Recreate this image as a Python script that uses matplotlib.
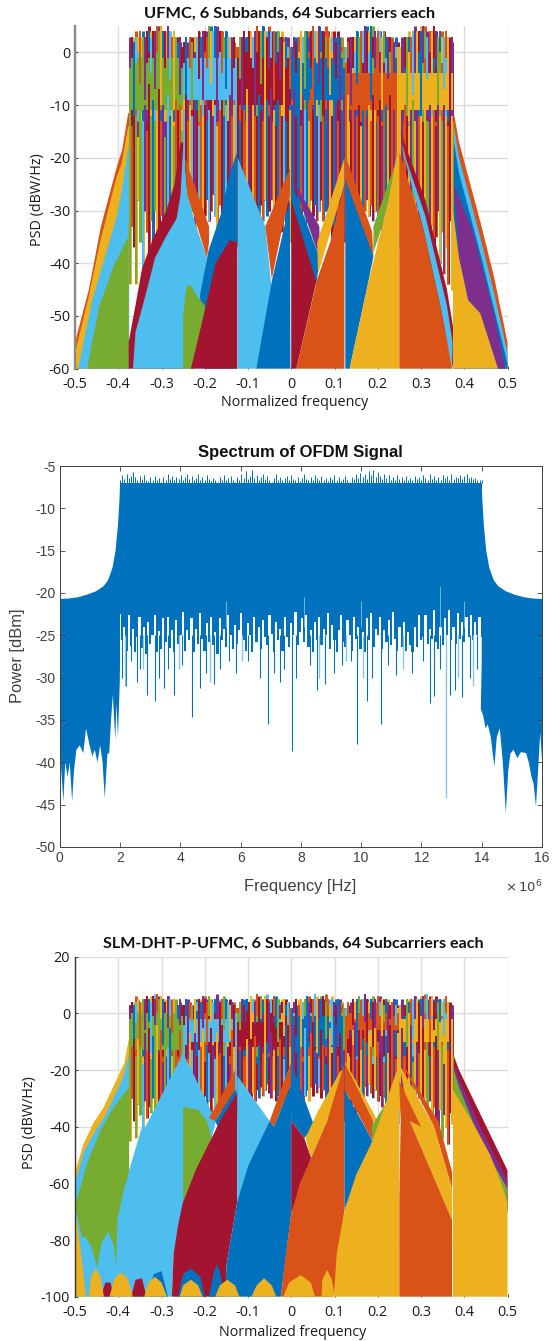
import numpy as np
import matplotlib
matplotlib.use("Agg")
import matplotlib.pyplot as plt

plt.rcParams["axes.unicode_minus"] = False

W, H = 554, 1341

BLUE = "#0072BD"
ORANGE = "#D95319"
GOLD = "#EDB120"
PURPLE = "#7E2F8E"
GREEN = "#77AC30"
SKY = "#4DBEEE"
RED = "#A2142F"
CYCLE = [BLUE, ORANGE, GOLD, PURPLE, GREEN, SKY, RED]

# colour index of each spike, 26 per subband
UPPER_COLOURS = ("36052143605631420635124036" "60314256036142503614052361" "14360625316402635104362051"
                 "03612540361523064125360314" "51362041536206315240361352" "23640153260345126340251263")
MIDDLE_COLOURS = ("41642453164042613450241614" "56125365126056352160563125" "60612362160612063260165062"
                  "03601350216035610326031603" "12613162013216216310261312" "23162342312624321632432162")

BAND_CENTRES = [-0.3125, -0.1875, -0.0625, 0.0625, 0.1875, 0.3125]
BAND_COLOURS = [GREEN, SKY, RED, BLUE, ORANGE, GOLD]
FREQ_TICKS = [-0.5, -0.4, -0.3, -0.2, -0.1, 0, 0.1, 0.2, 0.3, 0.4, 0.5]
FREQ_LABELS = ["-0.5", "-0.4", "-0.3", "-0.2", "-0.1", "0", "0.1", "0.2", "0.3", "0.4", "0.5"]

# panel 1 : UFMC
U_BLOCK_TOP = [-1, -1, 0, -1, -4, -4]
U_BLOCK_BOTTOM = [-11, -9, -10, -9, -11, -11]
U_TOP_HI = [2, 3, 2, 3, 3, 4, 3, 3, 4, 4, 3, 4, 4, 5, 4, 5, 4, 4, 5, 4, 3, 4, 3, 2, 3, 1,
            2, 3, 1, 3, 2, 3, 3, 4, 3, 4, 4, 3, 5, 4, 4, 5, 4, 4, 4, 3, 4, 3, 3, 2, 3, 1,
            1, 3, 3, 4, 3, 4, 4, 3, 4, 5, 4, 4, 5, 4, 3, 4, 4, 4, 3, 4, 3, 3, 2, 3, 1, 1,
            1, 3, 2, 3, 4, 3, 4, 4, 3, 4, 5, 4, 4, 5, 4, 4, 3, 4, 3, 3, 3, 2, 3, 2, 1, 1,
            1, 2, 3, 3, 3, 4, 3, 4, 4, 5, 4, 4, 5, 3, 4, 4, 4, 3, 4, 3, 3, 3, 2, 2, 1, 1,
            1, 2, 3, 3, 3, 3, 4, 3, 4, 4, 4, 5, 4, 3, 4, 4, 5, 4, 3, 4, 3, 3, 4, 3, 2, 3]
U_TOP_LO = [-3, -1, -12, -2, 0, -6, -1, -9, -2, 0, -4, -1, -7, 0, -2, -10, -1, -3, 0, -5, -1, -11, -2, -1, -8, -3,
            -2, -8, -1, -3, -11, 0, -2, -5, -1, -9, 0, -3, -1, -6, -2, -1, -12, 0, -4, -1, -7, -2, -1, -10, -3, -1,
            -1, -5, -11, -2, 0, -8, -1, -3, -12, 0, -2, -6, -1, -10, 0, -3, -1, -9, -2, 0, -5, -1, -12, -3, -1, -7,
            -9, -1, -4, 0, -11, -2, -7, -1, 0, -3, -10, -1, -2, -6, 0, -12, -1, -3, -8, 0, -2, -5, -1, -11, 0, -3,
            -2, -1, -10, -3, 0, -6, -1, -12, -2, -1, -4, 0, -9, -1, -3, -7, 0, -11, -2, -1, -5, 0, -8, -3, -1, -12,
            -6, -1, -3, -11, 0, -2, -8, -1, -4, 0, -12, -2, -1, -5, 0, -9, -1, -3, -10, 0, -2, -7, -1, -4, -11, -2]
U_MID_HI = [-9, -14, -7, -12, -16, -8, -13, -10, -15, -6, -12, -9, -14, -11, -7, -13, -10, -16, -8, -12, -11, -14, -9, -13, -10, -15,
            -11, -8, -13, -10, -12, -9, -11, -14, -10, -12, -10, -13, -11, -9, -12, -10, -14, -11, -9, -12, -10, -13, -8, -12, -10, -9,
            -9, -13, -8, -11, -7, -12, -10, -14, -9, -12, -8, -11, -13, -10, -9, -12, -7, -11, -14, -9, -10, -12, -8, -13, -10, -11,
            -10, -7, -12, -9, -14, -8, -11, -10, -13, -7, -11, -9, -12, -10, -14, -8, -11, -13, -9, -12, -7, -10, -13, -9, -11, -8,
            -11, -8, -13, -9, -11, -12, -10, -14, -11, -9, -12, -10, -13, -8, -11, -12, -9, -14, -11, -10, -12, -8, -13, -11, -9, -12,
            -11, -13, -10, -12, -14, -11, -9, -13, -11, -12, -10, -14, -11, -13, -10, -12, -11, -14, -9, -12, -13, -10, -12, -14, -11, -12]
U_MID_LO = [-44, -33, -37, -44, -28, -36, -41, -30, -34, -39, -32, -36, -30, -35, -38, -31, -34, -36, -30, -33, -35, -30, -34, -31, -33, -30,
            -30, -33, -28, -32, -30, -34, -29, -32, -30, -33, -31, -28, -32, -30, -27, -31, -33, -29, -34, -32, -30, -36, -31, -35, -33, -37,
            -36, -34, -37, -33, -36, -32, -35, -31, -34, -30, -33, -29, -32, -28, -31, -30, -28, -32, -30, -33, -31, -34, -32, -35, -33, -36,
            -33, -36, -32, -35, -33, -30, -34, -29, -32, -28, -31, -29, -32, -30, -28, -32, -30, -33, -31, -35, -33, -36, -34, -38, -33, -36,
            -35, -33, -37, -32, -35, -31, -33, -29, -32, -30, -28, -31, -29, -32, -30, -33, -31, -34, -32, -35, -33, -36, -34, -38, -35, -37,
            -34, -37, -33, -35, -31, -34, -30, -33, -29, -32, -31, -30, -34, -32, -36, -33, -38, -35, -30, -40, -34, -42, -37, -44, -32, -45]

U_EDGE_ORANGE_F = [-0.5, -0.468, -0.44, -0.403, -0.391, -0.377, -0.375, -0.375, -0.5]
U_EDGE_ORANGE_Y = [-55, -45, -33, -21.6, -18.5, -11.5, -11.5, -60, -60]
U_EDGE_GOLD_F = [-0.5, -0.47, -0.442, -0.405, -0.392, -0.377, -0.375, -0.375, -0.5]
U_EDGE_GOLD_Y = [-57, -47, -36, -24, -21, -14, -14, -60, -60]
U_EDGE_SKY_F = [-0.493, -0.46, -0.403, -0.39, -0.377, -0.375, -0.375]
U_EDGE_SKY_Y = [-60, -47, -31, -25.4, -18, -18, -60]
U_GREEN1_F = [-0.472, -0.444, -0.411, -0.377, -0.376, -0.376]
U_GREEN1_Y = [-60, -48.2, -40.6, -35, -31, -60]
U_RED2_F = [-0.376, -0.376, -0.358, -0.345, -0.321, -0.289, -0.27, -0.256, -0.25, -0.25]
U_RED2_Y = [-60, -55, -47, -41, -35.6, -30, -25, -17.2, -17, -60]
U_SKY2_F = [-0.366, -0.36, -0.34, -0.315, -0.29, -0.265, -0.256, -0.25, -0.24, -0.22, -0.195, -0.21, -0.225]
U_SKY2_Y = [-60, -53, -47, -39, -35, -31.5, -27, -18, -27, -33, -39, -48, -60]
U_ORANGE2_F = [-0.246, -0.19, -0.19, -0.195, -0.24]
U_ORANGE2_Y = [-20, -33, -36, -39, -27]
U_GREEN3_F = [-0.25, -0.25, -0.245, -0.24, -0.23, -0.22, -0.2, -0.2, -0.225]
U_GREEN3_Y = [-60, -50, -46, -44, -44.5, -46, -48, -50, -60]
U_BLUE3_F = [-0.211, -0.191, -0.162, -0.142, -0.13, -0.125, -0.125, -0.2]
U_BLUE3_Y = [-46, -37.5, -30.5, -23, -20, -19, -60, -60]
U_RED3_F = [-0.232, -0.2, -0.175, -0.142, -0.127, -0.125, -0.125]
U_RED3_Y = [-60, -49, -40, -35.6, -36, -36, -60]
U_SKY3_F = [-0.124, -0.06, -0.045, -0.081, -0.124]
U_SKY3_Y = [-20, -33, -45, -60, -60]
U_ORANGE3_F = [-0.003, -0.06, -0.045, -0.02, -0.003]
U_ORANGE3_Y = [-22, -33, -43, -33, -27]
U_BLUE4_F = [-0.081, -0.044, -0.02, -0.003, -0.002]
U_BLUE4_Y = [-60, -43, -34.5, -28, -60]
U_BLUE5_F = [0.001, 0.066, 0.058, 0.001]
U_BLUE5_Y = [-25, -39, -44, -35]
U_PURPLE5_F = [0.003, 0.065, 0.066, 0.04]
U_PURPLE5_Y = [-24, -33, -39, -33]
U_RED5_F = [0.0, 0.058, 0.012, 0.0]
U_RED5_Y = [-28, -43.5, -60, -60]
U_ORANGE5_F = [0.012, 0.06, 0.09, 0.123, 0.123]
U_ORANGE5_Y = [-60, -43, -36, -25, -60]
U_GOLD5_F = [0.06, 0.123, 0.123, 0.062]
U_GOLD5_Y = [-36, -20, -25, -42]
U_ORANGE6_F = [0.127, 0.187, 0.19, 0.13]
U_ORANGE6_Y = [-20, -34, -38.7, -27]
U_BLUE6_F = [0.125, 0.19, 0.177, 0.135, 0.125]
U_BLUE6_Y = [-24, -38.7, -44, -60, -60]
U_GREEN6_F = [0.19, 0.245, 0.245, 0.19]
U_GREEN6_Y = [-33, -20, -24, -38]
U_GOLD6_F = [0.135, 0.177, 0.225, 0.245, 0.25, 0.25]
U_GOLD6_Y = [-60, -44, -28, -19, -19, -60]
U_RED7_F = [0.252, 0.31, 0.36, 0.374, 0.374]
U_RED7_Y = [-15, -28, -45, -52, -60]
U_SKY7_F = [0.252, 0.31, 0.36, 0.373, 0.372, 0.347, 0.306]
U_SKY7_Y = [-17, -31, -48, -55, -60, -49, -33.7]
U_ORANGE7_F = [0.25, 0.306, 0.347, 0.372, 0.25]
U_ORANGE7_Y = [-19, -33.7, -49, -60, -60]
U_EDGE_R1_F = [0.376, 0.388, 0.44, 0.47, 0.5, 0.5, 0.376]
U_EDGE_R1_Y = [-11.5, -17, -33, -43, -55, -60, -60]
U_EDGE_R2_F = [0.376, 0.388, 0.44, 0.47, 0.5, 0.5, 0.376]
U_EDGE_R2_Y = [-14, -20, -36, -46, -57, -60, -60]
U_EDGE_R3_F = [0.376, 0.388, 0.44, 0.47, 0.5, 0.5, 0.376]
U_EDGE_R3_Y = [-17, -23, -39, -49, -59, -60, -60]
U_PURPLE8_F = [0.376, 0.42, 0.47, 0.495, 0.478, 0.437, 0.409, 0.388]
U_PURPLE8_Y = [-25, -34, -50, -60, -60, -49.5, -47, -39]
U_GOLD8_F = [0.374, 0.374, 0.388, 0.409, 0.437, 0.478]
U_GOLD8_Y = [-60, -30, -39, -47, -49.5, -60]

# panel 2 : OFDM
OFDM_BODY_TOP = -7.0
OFDM_BODY_BOTTOM = -22.0
OFDM_TOP = [-6.6, -6.1, -6.5, -6.0, -6.4, -6.2, -5.7, -6.3, -6.6, -6.2, -6.5, -6.1, -6.6, -6.8, -6.3, -6.6, -6.2, -6.7, -6.4, -6.9, -6.3, -6.6, -6.0, -6.5, -6.2, -6.7, -6.3, -6.5,
            -6.1, -6.6, -6.3, -5.9, -6.5, -6.2, -6.7, -6.4, -6.0, -6.6, -6.3, -6.7, -6.1, -6.5, -6.8, -6.4, -6.6, -6.9, -6.3, -6.6, -6.1, -6.7, -6.4, -6.2, -6.6, -6.9, -6.3, -6.6,
            -6.0, -6.4, -5.6, -6.5, -6.2, -5.5, -6.4, -6.1, -6.6, -6.3, -5.9, -6.5, -6.2, -6.6, -6.9, -6.4, -6.0, -6.6, -6.3, -6.7, -6.4, -6.2, -6.6, -6.1, -6.5, -6.7, -6.3, -6.8,
            -6.4, -6.0, -6.5, -6.7, -6.3, -6.6, -6.1, -6.4, -6.7, -6.2, -6.6, -6.4, -6.8, -6.3, -6.5, -6.1, -6.6, -6.3, -6.8, -6.5, -6.2, -6.6, -6.9, -6.3, -6.5, -6.0, -6.4, -5.8,
            -6.3, -5.9, -6.5, -5.6, -6.1, -5.5, -6.3, -5.7, -6.2, -6.5, -5.9, -6.4, -6.1, -6.6, -6.3, -6.7, -6.1, -6.5, -6.3, -6.6, -6.2, -6.6, -6.4, -6.7, -6.2, -6.5, -6.3, -6.6,
            -6.1, -6.4, -6.7, -6.0, -6.5, -6.2, -6.6, -6.3, -6.7, -6.1, -6.4, -6.2, -6.6, -6.0, -6.5, -6.3, -6.4, -6.1, -6.5, -6.2, -6.0, -6.4, -6.3, -6.5, -6.4, -6.7, -6.6, -6.7]
OFDM_FLOOR = [-22.5, -25.6, -24.0, -26.8, -22.6, -26.3, -24.2, -27.0, -25.2, -22.8, -26.5, -24.0, -27.2, -23.4, -26.0, -25.0, -22.6, -27.0, -24.5, -26.6, -23.0, -25.8, -22.8, -26.5, -24.4, -27.0, -23.2, -26.0,
              -25.0, -22.2, -26.8, -24.4, -25.6, -23.0, -27.0, -24.2, -26.0, -22.4, -25.4, -26.8, -23.6, -25.8, -22.8, -26.2, -24.6, -27.2, -23.0, -25.6, -24.2, -26.4, -22.6, -25.0, -26.6, -23.8, -26.0, -24.4,
              -22.4, -25.6, -26.8, -23.6, -25.0, -27.0, -22.8, -25.8, -24.0, -26.6, -23.2, -25.2, -26.2, -22.6, -24.8, -27.0, -23.4, -25.6, -24.2, -26.8, -22.8, -25.2, -26.4, -23.6, -25.0, -22.2, -26.2, -24.6,
              -23.0, -25.8, -22.6, -26.4, -24.4, -27.0, -23.4, -25.6, -22.8, -26.2, -24.2, -25.0, -22.4, -26.6, -23.8, -25.6, -27.0, -24.4, -22.6, -25.8, -26.4, -23.2, -25.0, -26.8, -22.8, -25.4, -24.0, -26.6,
              -24.6, -27.0, -23.0, -25.6, -22.4, -26.4, -24.2, -25.0, -22.8, -26.6, -24.4, -25.8, -23.2, -26.2, -22.2, -25.4, -26.8, -24.0, -26.4, -23.4, -26.8, -24.6, -26.2, -27.0, -24.0, -26.4, -22.6, -25.6,
              -25.2, -22.6, -26.0, -24.2, -25.4, -22.0, -25.8, -26.6, -24.0, -26.2, -23.0, -25.0, -22.0, -25.6, -24.0, -26.0, -22.4, -25.4, -23.4, -25.8, -22.8, -25.2, -22.6, -25.6, -23.4, -25.0, -22.8, -25.2]
OFDM_LEFT_TOP_F = [0, 0.3, 0.6, 0.9, 1.2, 1.45, 1.6, 1.75, 1.85, 1.93, 1.98, 2.0]
OFDM_LEFT_TOP_Y = [-20.7, -20.65, -20.5, -20.2, -19.8, -19.2, -18.5, -17, -15, -12, -9, -7]
OFDM_LEFT_LOW_F = [2.0, 1.99, 1.93, 1.88, 1.84, 1.76, 1.7, 1.64, 1.58, 1.49, 1.42, 1.34, 1.25, 1.16, 1.08, 0.99, 0.87, 0.78, 0.66, 0.55, 0.47, 0.41, 0.33, 0.26, 0.18, 0.12, 0.05, 0]
OFDM_LEFT_LOW_Y = [-28, -30.5, -37, -33, -37.3, -32, -35, -38.9, -39, -44.2, -40, -38, -40, -38.5, -39.3, -38, -36, -38.9, -38, -38.5, -41, -44.6, -40, -41.7, -40, -44.6, -41, -38.5]
OFDM_RIGHT_LOW_F = [14.0, 13.97, 14.05, 14.13, 14.2, 14.3, 14.42, 14.5, 14.6, 14.7, 14.8, 14.88, 14.95, 15.05, 15.18, 15.3, 15.47, 15.56, 15.65, 15.72, 15.8, 15.87, 15.94, 16.0]
OFDM_RIGHT_LOW_Y = [-28, -33.7, -34.5, -36, -35.5, -37, -40.5, -37, -36, -40, -46, -41, -39, -38.5, -39.5, -38.8, -38.9, -40, -41.7, -42.5, -45.2, -41, -36.5, -39.7]
OFDM_RIGHT_TOP_F = [16.0, 15.7, 15.4, 15.1, 14.8, 14.55, 14.4, 14.25, 14.15, 14.07, 14.02, 14.0]
OFDM_RIGHT_TOP_Y = [-20.7, -20.65, -20.5, -20.2, -19.8, -19.2, -18.5, -17, -15, -12, -9, -7]
OFDM_DIP_F = [2.05, 2.2, 2.35, 2.55, 2.65, 2.9, 3.15, 3.3, 3.45, 3.6, 3.8, 4.05, 4.4, 4.65, 4.85, 5.1, 5.3, 5.6, 5.85, 6.25, 6.65, 6.9, 7.1, 7.3, 7.45, 7.7, 7.85, 8.3, 8.55, 8.8, 9.1, 9.35, 9.65, 9.85, 10.2, 10.35, 10.65, 10.9, 11.15, 11.7, 12.05, 12.3, 12.4, 12.6, 12.95, 13.1, 13.35, 13.6, 13.85]
OFDM_DIP_Y = [-30, -31, -28, -30.5, -29, -32, -32.8, -30, -31.2, -29, -32, -28.5, -34.7, -31.2, -29.5, -30.8, -29, -28, -29.5, -28, -30, -35.5, -29.5, -30.5, -29, -38.7, -30, -28.5, -31.5, -30.8, -29.5, -28.5, -28, -37.8, -32.8, -30, -35.5, -28.5, -29.7, -29.5, -28, -33, -32.2, -29, -32, -31.5, -32.3, -30, -29]
OFDM_PALE_F = [2.15, 2.75, 3.95, 5.0, 6.05, 8.6, 9.5, 10.05, 11.4, 12.8, 13.2, 13.7]
OFDM_PALE_Y = [-31, -29, -29, -30.5, -28, -30, -28, -30, -29, -44.2, -30, -31]
OFDM_STREAK_F = [12.6, 10.0, 8.1, 5.5, 13.4]
OFDM_STREAK_Y = [-19.2, -21, -20.5, -21, -21]
FREQ2_TICKS = [0, 2, 4, 6, 8, 10, 12, 14, 16]
POWER_TICKS = [-50, -45, -40, -35, -30, -25, -20, -15, -10, -5]

# panel 3 : SLM-DHT-P-UFMC
S_BLOCK_TOP = [0, -2, -3, -1, 0, -2]
S_BLOCK_BOTTOM = [-13, -10, -12, -12, -6, -10]
S_TOP_HI = [3, 4, 3, 4, 5, 4, 5, 5, 6, 5, 4, 6, 5, 7, 5, 6, 5, 4, 6, 5, 4, 5, 4, 3, 5, 3,
            3, 5, 4, 4, 3, 5, 4, 5, 4, 6, 5, 4, 6, 5, 4, 5, 5, 4, 5, 3, 5, 4, 3, 4, 3, 2,
            2, 4, 5, 3, 5, 4, 6, 5, 4, 7, 5, 6, 4, 6, 5, 4, 5, 6, 4, 5, 3, 4, 5, 3, 4, 2,
            2, 4, 5, 3, 5, 4, 5, 6, 4, 5, 5, 7, 4, 5, 5, 6, 4, 5, 3, 5, 4, 3, 5, 3, 3, 2,
            2, 4, 3, 5, 4, 5, 6, 4, 5, 7, 5, 4, 5, 4, 5, 6, 4, 5, 3, 5, 4, 3, 4, 5, 3, 2,
            3, 4, 3, 5, 4, 5, 4, 6, 5, 4, 5, 6, 5, 7, 5, 6, 4, 5, 4, 5, 4, 5, 6, 4, 3, 3]
S_TOP_LO = [-2, 0, -9, -3, 1, -12, -1, -6, 0, -3, -14, -1, -4, 0, -8, -2, -11, 0, -5, -1, -7, 0, -13, -2, -4, -1,
            -4, -1, -10, 0, -3, -7, 1, -13, -2, -5, 0, -11, -1, -3, -8, 0, -2, -14, -1, -6, 0, -3, -9, -1, -12, 0,
            0, -6, -2, -13, 1, -3, -9, 0, -4, -1, -11, -2, 0, -7, -3, -14, 0, -1, -5, -10, -2, 0, -8, -1, -4, -12,
            -3, 0, -8, -1, -12, -2, 1, -5, -10, 0, -3, -1, -14, -2, -6, 0, -9, -1, -3, -11, 0, -4, -7, -1, 0, -13,
            -1, -9, 0, -4, -2, -13, 0, -6, -1, -3, -10, 0, -2, -12, -5, 0, -1, -8, -3, 0, -14, -2, -6, -1, -4, 0,
            -7, -2, -1, -12, 0, -4, -9, 0, -3, -14, -1, -5, 0, -2, -10, -1, -6, 0, -13, -3, -1, -8, 0, -4, -11, -2]
S_MID_HI = [-6, -12, -4, -15, -9, -3, -18, -7, -13, -5, -16, -8, -11, -4, -14, -6, -17, -9, -12, -5, -15, -7, -10, -18, -6, -13,
            -5, -11, -16, -7, -13, -4, -15, -9, -12, -6, -17, -8, -14, -5, -11, -16, -7, -13, -4, -15, -9, -12, -18, -6, -10, -14,
            -7, -13, -4, -16, -9, -11, -5, -15, -8, -18, -6, -12, -14, -3, -10, -17, -7, -13, -5, -15, -9, -11, -16, -4, -12, -8,
            -8, -4, -14, -10, -6, -17, -5, -12, -15, -7, -3, -13, -9, -16, -6, -11, -18, -8, -5, -14, -10, -4, -15, -7, -12, -9,
            -5, -14, -8, -11, -3, -16, -6, -13, -9, -4, -15, -7, -12, -18, -5, -10, -14, -6, -17, -8, -11, -4, -13, -9, -16, -7,
            -9, -5, -15, -7, -12, -4, -17, -8, -11, -14, -6, -3, -13, -10, -16, -5, -12, -8, -15, -4, -11, -18, -7, -13, -9, -6]
S_MID_LO = [-45, -30, -38, -44, -32, -36, -42, -31, -37, -33, -35, -30, -38, -32, -36, -29, -34, -37, -30, -33, -28, -35, -31, -29, -33, -27,
            -27, -30, -26, -29, -32, -28, -31, -27, -30, -33, -29, -34, -31, -35, -30, -33, -36, -31, -34, -37, -32, -35, -33, -37, -34, -38,
            -36, -33, -37, -31, -34, -30, -33, -28, -31, -27, -30, -26, -29, -27, -25, -28, -30, -27, -31, -29, -33, -30, -34, -32, -36, -35,
            -34, -36, -32, -35, -30, -33, -29, -27, -31, -26, -29, -25, -28, -26, -30, -27, -31, -29, -33, -30, -34, -36, -32, -37, -35, -38,
            -36, -33, -37, -31, -35, -29, -32, -27, -30, -26, -29, -25, -28, -30, -27, -31, -29, -33, -30, -35, -32, -36, -34, -38, -35, -39,
            -34, -38, -32, -36, -30, -33, -28, -31, -27, -30, -28, -32, -30, -34, -31, -35, -33, -38, -42, -34, -44, -36, -40, -46, -35, -39]

S_EDGE_GOLD_F = [-0.5, -0.48, -0.458, -0.435, -0.386, -0.376, -0.375, -0.375, -0.5]
S_EDGE_GOLD_Y = [-56, -46, -38.8, -33.5, -17.6, -9.4, -9.4, -70, -70]
S_EDGE_SKY_F = [-0.5, -0.48, -0.455, -0.43, -0.39, -0.376, -0.375, -0.375, -0.5]
S_EDGE_SKY_Y = [-60, -49, -42, -36, -23, -15, -15, -100, -100]
S_GREEN1_F = [-0.5, -0.47, -0.44, -0.41, -0.375, -0.375, -0.39, -0.402, -0.405, -0.41, -0.423, -0.439, -0.449, -0.463, -0.476, -0.484]
S_GREEN1_Y = [-68, -52, -41, -33, -26, -56, -64, -73, -89.5, -82, -77, -81, -89.5, -82, -79, -79]
S_SKY2_F = [-0.405, -0.402, -0.39, -0.376, -0.345, -0.337, -0.25, -0.174, -0.184, -0.25, -0.272, -0.276]
S_SKY2_Y = [-100, -90, -73, -56, -40, -40, -14, -38, -44, -68, -85, -100]
S_ORANGE3_F = [-0.19, -0.13, -0.13, -0.176]
S_ORANGE3_Y = [-37, -20, -27, -38]
S_BLUE3_F = [-0.176, -0.13, -0.125, -0.17]
S_BLUE3_Y = [-38, -27, -28, -40]
S_GREEN3_F = [-0.25, -0.215, -0.195, -0.184, -0.25]
S_GREEN3_Y = [-33, -34, -38, -44, -68]
S_RED3_F = [-0.276, -0.272, -0.262, -0.251, -0.22, -0.184, -0.165, -0.125, -0.125, -0.15, -0.152]
S_RED3_Y = [-100, -85, -75, -67, -55, -44, -38, -28, -66.6, -89, -100]
S_SKY3_F = [-0.125, -0.05, -0.125]
S_SKY3_Y = [-22, -38, -66.6]
S_ORANGE4_F = [-0.05, 0.0, 0.0, -0.04]
S_ORANGE4_Y = [-38, -17, -25, -40]
S_BLUE4_F = [-0.152, -0.15, -0.14, -0.125, -0.1, -0.05, -0.04, 0.0, 0.0, -0.023, -0.025]
S_BLUE4_Y = [-100, -89, -80, -66.6, -54, -38, -40, -25, -70.7, -99, -100]
S_BLUE5_F = [0.0, 0.054, 0.03, 0.0]
S_BLUE5_Y = [-17.6, -40, -44, -38]
S_RED5_F = [0.0, 0.046, 0.03, 0.0]
S_RED5_Y = [-70.7, -51, -44, -38]
S_GOLD5_F = [0.033, 0.046, 0.083, 0.123, 0.115, 0.06]
S_GOLD5_Y = [-44, -51, -38, -22, -20, -35]
S_ORANGE5_F = [-0.023, -0.015, 0.0, 0.02, 0.046, 0.083, 0.123, 0.123, 0.099, 0.097, -0.025]
S_ORANGE5_Y = [-99, -88, -70.7, -60, -51, -38, -17.6, -69.5, -99, -100, -100]
S_ORANGE6_F = [0.125, 0.19, 0.188, 0.125]
S_ORANGE6_Y = [-18, -38, -45, -27]
S_GOLD6_F = [0.125, 0.2, 0.19, 0.125]
S_GOLD6_Y = [-17, -38, -38, -18]
S_BLUE6_F = [0.123, 0.188, 0.123]
S_BLUE6_Y = [-27, -45, -69.5]
S_GREEN6_F = [0.185, 0.25, 0.25, 0.19]
S_GREEN6_Y = [-40, -24, -30, -46]
S_GOLD7_F = [0.097, 0.099, 0.105, 0.123, 0.15, 0.188, 0.25, 0.25]
S_GOLD7_Y = [-100, -99, -85, -69.5, -57, -45, -17.6, -100]
S_SKIN7_F = [0.25, 0.34, 0.372, 0.372, 0.33]
S_SKIN7_Y = [-16, -38, -56, -62, -40]
S_GOLD8_F = [0.25, 0.33, 0.372, 0.372, 0.274]
S_GOLD8_Y = [-18, -40, -62, -73, -38]
S_ORANGE8_F = [0.25, 0.3, 0.274, 0.372, 0.372, 0.25, 0.25, 0.253]
S_ORANGE8_Y = [-24, -40, -38, -73, -100, -100, -65, -38]
S_EDGE_R1_F = [0.376, 0.388, 0.445, 0.5, 0.5, 0.376]
S_EDGE_R1_Y = [-15, -20, -38, -55.4, -70, -70]
S_EDGE_R2_F = [0.376, 0.388, 0.44, 0.5, 0.5, 0.376]
S_EDGE_R2_Y = [-18, -23, -41, -59, -70, -70]
S_EDGE_R3_F = [0.376, 0.388, 0.435, 0.5, 0.5, 0.376]
S_EDGE_R3_Y = [-20, -26, -44, -62, -70, -70]
S_GOLD9_F = [0.374, 0.374, 0.425, 0.46, 0.49, 0.5, 0.5]
S_GOLD9_Y = [-100, -27, -40, -50, -62, -67, -100]
S_LOW_RED_F = [-0.44, -0.43, -0.418, -0.41, -0.41, -0.37, -0.36, -0.345, -0.335]
S_LOW_RED_Y = [-100, -95, -95, -100, -100, -100, -94, -93.5, -100]
S_LOW_BLUE_F = [-0.33, -0.318, -0.3, -0.285, -0.262, -0.25, -0.232, -0.21, -0.2, -0.19, -0.18, -0.172, -0.165, -0.155]
S_LOW_BLUE_Y = [-100, -92, -91, -100, -100, -92, -90, -93, -100, -100, -92, -88.5, -91, -100]
S_LOW_GOLD_F = [-0.5, -0.5, -0.49, -0.482, -0.475, -0.468, -0.463, -0.452, -0.441, -0.433, -0.42, -0.41, -0.396, -0.38, -0.366, -0.34, -0.33, -0.315, -0.3, -0.287, -0.258, -0.25, -0.232, -0.215, -0.205, -0.176, -0.165, -0.148, -0.13, -0.12, -0.092, -0.08, -0.063, -0.045, -0.035, -0.018, -0.005, 0.022, 0.045, 0.055, 0.07, 0.072, 0.083, 0.094, 0.1]
S_LOW_GOLD_Y = [-100, -68, -80, -90, -100, -100, -93, -90, -93, -100, -100, -94, -91.5, -93, -100, -100, -95, -93, -95, -100, -100, -96, -94, -96, -100, -100, -96, -94, -96, -100, -100, -96, -93.5, -96, -100, -100, -95, -92.4, -95, -100, -100, -94, -90.6, -94, -100]

UFMC_LOBES = [(U_EDGE_ORANGE_F, U_EDGE_ORANGE_Y, ORANGE), (U_EDGE_GOLD_F, U_EDGE_GOLD_Y, GOLD), (U_EDGE_SKY_F, U_EDGE_SKY_Y, SKY),
              (U_GREEN1_F, U_GREEN1_Y, GREEN), (U_RED2_F, U_RED2_Y, RED), (U_SKY2_F, U_SKY2_Y, SKY), (U_ORANGE2_F, U_ORANGE2_Y, ORANGE),
              (U_BLUE3_F, U_BLUE3_Y, BLUE), (U_GREEN3_F, U_GREEN3_Y, GREEN), (U_RED3_F, U_RED3_Y, RED), (U_SKY3_F, U_SKY3_Y, SKY),
              (U_ORANGE3_F, U_ORANGE3_Y, ORANGE), (U_BLUE4_F, U_BLUE4_Y, BLUE), (U_PURPLE5_F, U_PURPLE5_Y, PURPLE), (U_BLUE5_F, U_BLUE5_Y, BLUE),
              (U_RED5_F, U_RED5_Y, RED), (U_GOLD5_F, U_GOLD5_Y, GOLD), (U_ORANGE5_F, U_ORANGE5_Y, ORANGE), (U_ORANGE6_F, U_ORANGE6_Y, ORANGE),
              (U_BLUE6_F, U_BLUE6_Y, BLUE), (U_GREEN6_F, U_GREEN6_Y, GREEN), (U_GOLD6_F, U_GOLD6_Y, GOLD), (U_RED7_F, U_RED7_Y, RED),
              (U_SKY7_F, U_SKY7_Y, SKY), (U_ORANGE7_F, U_ORANGE7_Y, ORANGE), (U_EDGE_R1_F, U_EDGE_R1_Y, ORANGE), (U_EDGE_R2_F, U_EDGE_R2_Y, SKY),
              (U_EDGE_R3_F, U_EDGE_R3_Y, BLUE), (U_PURPLE8_F, U_PURPLE8_Y, PURPLE), (U_GOLD8_F, U_GOLD8_Y, GOLD)]
SLM_LOBES = [(S_EDGE_GOLD_F, S_EDGE_GOLD_Y, GOLD), (S_EDGE_SKY_F, S_EDGE_SKY_Y, SKY), (S_GREEN1_F, S_GREEN1_Y, GREEN),
             (S_SKY2_F, S_SKY2_Y, SKY), (S_ORANGE3_F, S_ORANGE3_Y, ORANGE), (S_BLUE3_F, S_BLUE3_Y, BLUE), (S_GREEN3_F, S_GREEN3_Y, GREEN),
             (S_RED3_F, S_RED3_Y, RED), (S_SKY3_F, S_SKY3_Y, SKY), (S_ORANGE4_F, S_ORANGE4_Y, ORANGE), (S_BLUE4_F, S_BLUE4_Y, BLUE),
             (S_BLUE5_F, S_BLUE5_Y, BLUE), (S_RED5_F, S_RED5_Y, RED), (S_GOLD5_F, S_GOLD5_Y, GOLD), (S_ORANGE5_F, S_ORANGE5_Y, ORANGE),
             (S_GOLD6_F, S_GOLD6_Y, GOLD), (S_ORANGE6_F, S_ORANGE6_Y, ORANGE), (S_BLUE6_F, S_BLUE6_Y, BLUE), (S_GREEN6_F, S_GREEN6_Y, GREEN),
             (S_GOLD7_F, S_GOLD7_Y, GOLD), (S_SKIN7_F, S_SKIN7_Y, ORANGE), (S_GOLD8_F, S_GOLD8_Y, GOLD), (S_ORANGE8_F, S_ORANGE8_Y, ORANGE),
             (S_EDGE_R1_F, S_EDGE_R1_Y, RED), (S_EDGE_R2_F, S_EDGE_R2_Y, PURPLE), (S_EDGE_R3_F, S_EDGE_R3_Y, GREEN), (S_GOLD9_F, S_GOLD9_Y, GOLD),
             (S_LOW_RED_F, S_LOW_RED_Y, RED), (S_LOW_BLUE_F, S_LOW_BLUE_Y, BLUE), (S_LOW_GOLD_F, S_LOW_GOLD_Y, GOLD)]


def px_axes(fig, left, top, right, bottom):
    return fig.add_axes([left / W, 1 - bottom / H, (right - left) / W, (bottom - top) / H])


def label(fig, x, y, text, **kw):
    fig.text(x / W, 1 - y / H, text, ha="center", va="center", **kw)


def spikes(ax, lows, highs, colours, zorder, width=1.44):
    x = np.linspace(-0.375, 0.375, len(colours) + 1)[:-1] + 0.75 / len(colours) / 2
    ax.vlines(x, lows, highs, colors=[CYCLE[int(c)] for c in colours], linewidth=width, capstyle="butt", zorder=zorder)


def subband_panel(fig, top, bottom, ylim, yticks, block_top, block_bottom, mid_lo, mid_hi, top_lo, top_hi, lobes, spine_color, spine_width):
    ax = px_axes(fig, 75, top, 507.5, bottom)
    # under layers close the gaps left by the snapped spike widths
    spikes(ax, mid_lo, block_bottom[0], MIDDLE_COLOURS[::-1], 1.1, width=2.16)
    spikes(ax, block_bottom[0] - 2, top_hi[::-1], UPPER_COLOURS[::-1], 1.15, width=2.16)
    heights = [t - b for t, b in zip(block_top, block_bottom)]
    ax.bar(BAND_CENTRES, heights, bottom=block_bottom, width=0.125, color=BAND_COLOURS, linewidth=0, zorder=1.2)
    spikes(ax, mid_lo, mid_hi, MIDDLE_COLOURS, 1.3)
    for f, y, c in lobes:
        ax.fill(f, y, color=c, linewidth=0, zorder=1.4)
    spikes(ax, top_lo, top_hi, UPPER_COLOURS, 1.5)
    ax.set_xlim(-0.5, 0.5)
    ax.set_ylim(*ylim)
    ax.set_xticks(FREQ_TICKS)
    ax.set_xticklabels(FREQ_LABELS)
    ax.set_yticks(yticks)
    ax.grid(True, color="#dcdcdc", linewidth=1.0)
    ax.set_axisbelow(True)
    for s in ["top", "right", "bottom"]:
        ax.spines[s].set_visible(False)
    ax.spines["left"].set_color(spine_color)
    ax.spines["left"].set_linewidth(spine_width)
    ax.tick_params(axis="both", direction="in", length=2.5, width=0.7, color="#404040", labelsize=10.4, pad=3.5, labelcolor="#1a1a1a")
    ax.tick_params(axis="x", pad=6)
    for t in ax.get_xticklabels() + ax.get_yticklabels():
        t.set_fontfamily("Open Sans")
    return ax


fig = plt.figure(figsize=(W / 100, H / 100), dpi=100)

subband_panel(fig, 26, 368.7, (-60, 5), [-60, -50, -40, -30, -20, -10, 0], U_BLOCK_TOP, U_BLOCK_BOTTOM,
              U_MID_LO, U_MID_HI, U_TOP_LO, U_TOP_HI, UFMC_LOBES, "#8a8a8a", 1.7)
label(fig, 290, 14, "UFMC, 6 Subbands, 64 Subcarriers each", fontfamily="Lato", fontweight="bold", fontsize=11.8, color="#111111")
label(fig, 37, 200, "PSD (dBW/Hz)", fontfamily="Open Sans", fontsize=10.4, rotation=90, color="#1a1a1a")
label(fig, 295, 403, "Normalized frequency", fontfamily="Open Sans", fontsize=10.3, color="#1a1a1a")

ax2 = px_axes(fig, 59.8, 466, 542, 847)
ax2.fill(np.array(OFDM_LEFT_TOP_F + OFDM_LEFT_LOW_F) * 1e6, OFDM_LEFT_TOP_Y + OFDM_LEFT_LOW_Y, color=BLUE, linewidth=0)
ax2.fill(np.array(OFDM_RIGHT_LOW_F + OFDM_RIGHT_TOP_F) * 1e6, OFDM_RIGHT_LOW_Y + OFDM_RIGHT_TOP_Y, color=BLUE, linewidth=0)
band = np.linspace(2e6, 14e6, len(OFDM_TOP))
ax2.bar(8e6, OFDM_BODY_TOP - OFDM_BODY_BOTTOM, bottom=OFDM_BODY_BOTTOM, width=12e6, color=BLUE, linewidth=0)
ax2.vlines(band, OFDM_BODY_TOP, OFDM_TOP, color=BLUE, linewidth=0.72)
ax2.fill_between(band, OFDM_FLOOR, OFDM_BODY_BOTTOM, step="mid", color=BLUE, linewidth=0)
ax2.vlines(np.array(OFDM_DIP_F) * 1e6, -25, OFDM_DIP_Y, color=BLUE, linewidth=0.8)
ax2.vlines(np.array(OFDM_PALE_F) * 1e6, -25, OFDM_PALE_Y, color="#8cc3e6", linewidth=1.0)
ax2.vlines(np.array(OFDM_STREAK_F) * 1e6, OFDM_STREAK_Y, -24, color="#6fb3e0", linewidth=0.7)
ax2.set_xlim(0, 16e6)
ax2.set_ylim(-50, -5)
ax2.set_xticks(np.array(FREQ2_TICKS) * 1e6)
ax2.set_xticklabels([str(v) for v in FREQ2_TICKS])
ax2.set_yticks(POWER_TICKS)
ax2.tick_params(axis="both", direction="in", length=3.5, width=0.6, color="#404040", labelsize=10, labelcolor="#404040", top=True, right=True, pad=3)
for t in ax2.get_xticklabels() + ax2.get_yticklabels():
    t.set_fontfamily("Liberation Sans")
for s in ax2.spines.values():
    s.set_color("#404040")
    s.set_linewidth(0.7)
label(fig, 300, 452, "Spectrum of OFDM Signal", fontfamily="Liberation Sans", fontweight="bold", fontsize=12, color="#111111")
label(fig, 300, 886, "Frequency [Hz]", fontfamily="Liberation Sans", fontsize=11.9, color="#404040")
label(fig, 18, 656, "Power [dBm]", fontfamily="Liberation Sans", fontsize=11.9, color="#404040", rotation=90)
label(fig, 524, 887, r"$\times\,10^{6}$", fontsize=9.5, color="#404040")

subband_panel(fig, 956.7, 1296.7, (-100, 20), [-100, -80, -60, -40, -20, 0, 20], S_BLOCK_TOP, S_BLOCK_BOTTOM,
              S_MID_LO, S_MID_HI, S_TOP_LO, S_TOP_HI, SLM_LOBES, "#333333", 1.0)
label(fig, 293, 944, "SLM-DHT-P-UFMC, 6 Subbands, 64 Subcarriers each", fontfamily="Lato", fontweight="bold", fontsize=11.6, color="#111111")
label(fig, 30, 1123, "PSD (dBW/Hz)", fontfamily="Open Sans", fontsize=10.4, rotation=90, color="#1a1a1a")
label(fig, 293, 1332, "Normalized frequency", fontfamily="Open Sans", fontsize=10.3, color="#1a1a1a")

fig.savefig("out.png", dpi=100)
